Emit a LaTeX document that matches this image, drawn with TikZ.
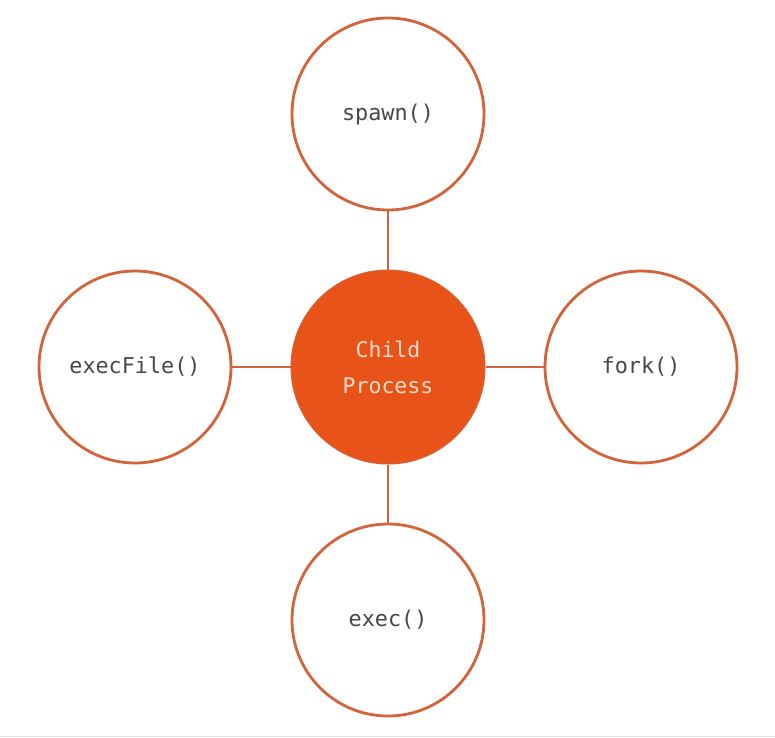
\documentclass[tikz,border=0pt]{standalone}
\usepackage{fontspec}
\newfontfamily\monofont{DejaVu Sans Mono}
\definecolor{ring}{HTML}{D2633A}
\definecolor{hub}{HTML}{E8531A}
\definecolor{labelgray}{HTML}{474747}
\definecolor{hubtext}{HTML}{F6DCCB}
\begin{document}
\begin{tikzpicture}[x=1pt,y=-1pt,
  outer/.style={circle,draw=ring,line width=2.8pt,fill=white,minimum size=192pt,inner sep=0pt,
    font=\monofont\fontsize{21.8}{26}\selectfont,text=labelgray,align=center},
  inner/.style={circle,draw=ring,line width=1pt,fill=hub,minimum size=194pt,inner sep=0pt,
    font=\monofont\fontsize{21.5}{36}\selectfont,text=hubtext,align=center},
  link/.style={draw=ring,line width=2.2pt}]
\fill[white] (0,0) rectangle (775,737);
\useasboundingbox (0,0) rectangle (775,737);
\draw[gray!20,line width=1pt] (0,736) -- (775,736);
\node[inner] (hub) at (388,367) {Child\\Process};
\node[outer] (spawn) at (388,114) {spawn()};
\node[outer] (execfile) at (135,367) {execFile()};
\node[outer] (fork) at (641,367) {fork()};
\node[outer] (exec) at (388,620) {exec()};
\draw[link] (spawn) -- (hub);
\draw[link] (execfile) -- (hub);
\draw[link] (fork) -- (hub);
\draw[link] (exec) -- (hub);
\end{tikzpicture}
\end{document}
